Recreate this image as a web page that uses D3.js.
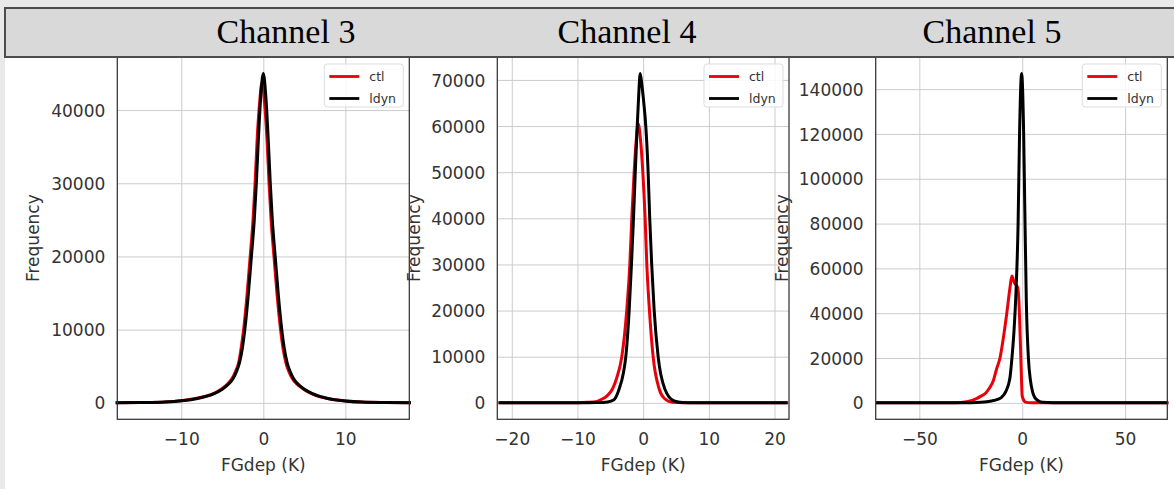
<!DOCTYPE html>
<html>
<head>
<meta charset="utf-8">
<script src="https://cdn.jsdelivr.net/npm/d3@7"></script>
<style>
body{margin:0;background:#fff;}
svg{display:block;}
</style>
</head>
<body>
<svg width="1174" height="489"></svg>
<script>
// ---- data ----
const channels = ['Channel 3', 'Channel 4', 'Channel 5'];
const seriesNames = ['ctl', 'ldyn'];
const seriesColors = ['#e8000b', '#000000'];

// Channel 3
const ch3CtlX  = [-18,-15,-12,-10,-8,-6,-5.1,-4.3,-3.8,-3.4,-3.0,-2.7,-2.4,-2.0,-1.6,-1.25,-1.0,-0.75,-0.45,-0.15,0.15,0.45,0.7,0.95,1.3,1.7,2.1,2.4,2.75,3.15,3.55,4.05,5,6,8,10,12,15,18];
const ch3CtlY  = [0,45,130,300,650,1300,1900,2650,3350,4250,5500,7500,10000,14500,20000,25000,30000,36000,41000,43800,41000,36000,30000,25000,20000,14500,10000,7500,5500,4200,3300,2600,1800,1200,550,250,100,30,0];
const ch3LdynX = [-18,-15,-12,-10,-8,-6,-5,-4.2,-3.7,-3.3,-2.9,-2.55,-2.25,-1.85,-1.45,-1.1,-0.85,-0.6,-0.3,0,0.3,0.6,0.85,1.1,1.45,1.85,2.25,2.55,2.9,3.3,3.7,4.2,5,6,8,10,12,15,18];
const ch3LdynY = [0,40,120,280,600,1250,1850,2600,3300,4200,5500,7500,10000,14500,20000,25000,30000,36000,42000,45000,42000,36000,30000,25000,20000,14500,10000,7500,5500,4200,3300,2600,1850,1250,550,250,100,30,0];

// Channel 4
const ch4CtlX  = [-22,-10,-8.5,-7,-6.4,-5.5,-4.67,-4,-3.25,-2.5,-2.03,-1.73,-1.37,-1.05,-0.76,-0.4,-0.05,0.3,0.56,0.96,1.52,2.44,3.2,4.5,6,22];
const ch4CtlY  = [0,30,100,300,700,1500,3000,5500,10000,20000,30000,40000,50000,57000,60500,57000,50000,40000,30000,20000,10000,3000,1000,100,0,0];
const ch4LdynX = [-22,-10,-7,-5.4,-4.5,-3.65,-3,-2.64,-2.13,-1.78,-1.47,-1.2,-0.9,-0.7,-0.45,-0.2,0.1,0.4,0.76,1.0,1.3,1.68,2.28,3.3,4.7,6,8,22];
const ch4LdynY = [0,0,50,200,600,3000,6500,10000,20000,30000,40000,50000,60000,66000,71400,69000,65000,60000,50000,40000,30000,20000,10000,3000,400,50,0,0];

// Channel 5
const ch5CtlX  = [-71,-35,-30,-27,-24,-22,-20,-17.6,-16,-14,-12.5,-10.8,-9,-7.5,-6,-5,-4,-3,-2.2,-1.6,-1,-0.5,0,1,2,4,8,71];
const ch5CtlY  = [0,0,100,500,1200,2000,3000,4500,6500,10000,15000,20000,30000,40000,51000,56600,54000,52500,51500,45000,30000,15000,3000,800,200,0,0,0];
const ch5LdynX = [-71,-30,-20,-15,-12,-10,-8,-6,-5,-4,-3,-2,-1.3,-0.3,0.7,1.2,2,3,4,5,6,8,10,15,20,71];
const ch5LdynY = [0,50,300,800,1500,2500,5000,11000,20000,32000,50000,80000,120000,147000,120000,90000,45000,20000,10000,5000,2500,800,250,30,0,0];

// axis limits and tick labels
const ch3XLim = [-17.8, 17.8], ch4XLim = [-22.2, 22.2], ch5XLim = [-71.2, 70.5];
const ch3XTicks = [-10, 0, 10];
const ch4XTicks = [-20, -10, 0, 10, 20];
const ch5XTicks = [-50, 0, 50];
const ch3YTicks = [0, 10000, 20000, 30000, 40000];
const ch4YTicks = [0, 10000, 20000, 30000, 40000, 50000, 60000, 70000];
const ch5YTicks = [0, 20000, 40000, 60000, 80000, 100000, 120000, 140000];

const xLabel = 'FGdep (K)';
const yLabel = 'Frequency';

// ---- layout ----
const svg = d3.select('svg');
const width = +svg.attr('width');
const height = +svg.attr('height');

const plotTop = 57, plotBottom = 419.3;
const panelLeft  = [117.3, 497.3, 875.7];
const panelRight = [409.3, 789, 1167.3];
const titleX = [286, 627, 992];
const yLabelX = [33, 414, 782];

const zip = (xs, ys) => xs.map((x, i) => ({x: x, y: ys[i]}));

const panels = [
  {series: [zip(ch3CtlX, ch3CtlY), zip(ch3LdynX, ch3LdynY)], xLim: ch3XLim, xTicks: ch3XTicks, yTicks: ch3YTicks},
  {series: [zip(ch4CtlX, ch4CtlY), zip(ch4LdynX, ch4LdynY)], xLim: ch4XLim, xTicks: ch4XTicks, yTicks: ch4YTicks},
  {series: [zip(ch5CtlX, ch5CtlY), zip(ch5LdynX, ch5LdynY)], xLim: ch5XLim, xTicks: ch5XTicks, yTicks: ch5YTicks}
];

const textColor = '#333';
const tickFont = 17;
const fmtMinus = d => d3.format('d')(d).replace('-', '\u2212');

// page background
svg.append('rect').attr('width', width).attr('height', height).attr('fill', '#fff');
svg.append('rect').attr('x', 0).attr('y', 0).attr('width', 5).attr('height', height).attr('fill', '#e9e9e9');

const render = (panel, i) => {
  const left = panelLeft[i], right = panelRight[i];
  const peak = d3.max(panel.series, s => d3.max(s, d => d.y));

  const xScale = d3.scaleLinear().domain(panel.xLim).range([left, right]);
  const yScale = d3.scaleLinear().domain([-0.05 * peak, 1.05 * peak]).range([plotBottom, plotTop]);

  const g = svg.append('g');

  // grid via axes with long ticks
  const xAxis = d3.axisBottom(xScale).tickValues(panel.xTicks)
    .tickSize(-(plotBottom - plotTop)).tickPadding(14).tickFormat(fmtMinus);
  const yAxis = d3.axisLeft(yScale).tickValues(panel.yTicks)
    .tickSize(-(right - left)).tickPadding(12).tickFormat(d3.format('d'));

  const xg = g.append('g').attr('transform', `translate(0,${plotBottom})`).call(xAxis);
  const yg = g.append('g').attr('transform', `translate(${left},0)`).call(yAxis);

  [xg, yg].forEach(ax => {
    ax.select('.domain').remove();
    ax.selectAll('.tick line').attr('stroke', '#cccccc').attr('stroke-width', 1);
    ax.selectAll('.tick text')
      .attr('fill', textColor)
      .style('font-family', 'DejaVu Sans')
      .style('font-size', tickFont + 'px');
  });
  yg.selectAll('.tick text').attr('dy', '0.36em');

  // curves
  const line = d3.line()
    .x(d => xScale(d.x))
    .y(d => yScale(d.y))
    .curve(d3.curveMonotoneX);

  g.selectAll('path.curve')
    .data(panel.series)
    .enter()
    .append('path')
    .attr('class', 'curve')
    .attr('d', line)
    .attr('fill', 'none')
    .attr('stroke', (d, k) => seriesColors[k])
    .attr('stroke-width', 3)
    .attr('stroke-linejoin', 'round');

  // spines
  g.append('rect')
    .attr('x', left).attr('y', plotTop)
    .attr('width', right - left).attr('height', plotBottom - plotTop)
    .attr('fill', 'none').attr('stroke', '#333').attr('stroke-width', 1.25);

  // axis titles
  g.append('text')
    .text(xLabel)
    .attr('x', (left + right) / 2)
    .attr('y', 471)
    .attr('text-anchor', 'middle')
    .attr('fill', textColor)
    .style('font-family', 'DejaVu Sans')
    .style('font-size', '17px');

  g.append('text')
    .text(yLabel)
    .attr('transform', `translate(${yLabelX[i] + 6},${(plotTop + plotBottom) / 2}) rotate(-90)`)
    .attr('text-anchor', 'middle')
    .attr('fill', textColor)
    .style('font-family', 'DejaVu Sans')
    .style('font-size', '17px');

  // legend
  const lx = right - 85, ly = 64;
  const legend = g.append('g').attr('transform', `translate(${lx},${ly})`);
  legend.append('rect')
    .attr('width', 79).attr('height', 43).attr('rx', 3)
    .attr('fill', '#fff').attr('fill-opacity', 0.85)
    .attr('stroke', '#dddddd').attr('stroke-width', 1);
  const items = legend.selectAll('g.item')
    .data(seriesNames)
    .enter()
    .append('g')
    .attr('class', 'item')
    .attr('transform', (d, k) => `translate(0,${12.5 + k * 22})`);
  items.append('line')
    .attr('x1', 5).attr('x2', 35)
    .attr('stroke', (d, k) => seriesColors[k])
    .attr('stroke-width', 2.8);
  items.append('text')
    .text(d => d)
    .attr('x', 45).attr('dy', '0.35em')
    .attr('fill', textColor)
    .style('font-family', 'DejaVu Sans')
    .style('font-size', '12.5px');
};

panels.forEach(render);

// header band with channel titles
svg.append('rect').attr('x', 0).attr('y', 0).attr('width', width).attr('height', 8).attr('fill', '#e9e9e9');
svg.append('rect')
  .attr('x', 5).attr('y', 8).attr('width', width).attr('height', 49)
  .attr('fill', '#d9d9d9').attr('stroke', '#4d4d4d').attr('stroke-width', 2);

svg.selectAll('text.title')
  .data(channels)
  .enter()
  .append('text')
  .attr('class', 'title')
  .text(d => d)
  .attr('x', (d, i) => titleX[i])
  .attr('y', 43)
  .attr('text-anchor', 'middle')
  .attr('fill', '#000')
  .style('font-family', 'Liberation Serif')
  .style('font-size', '34px');
</script>
</body>
</html>
